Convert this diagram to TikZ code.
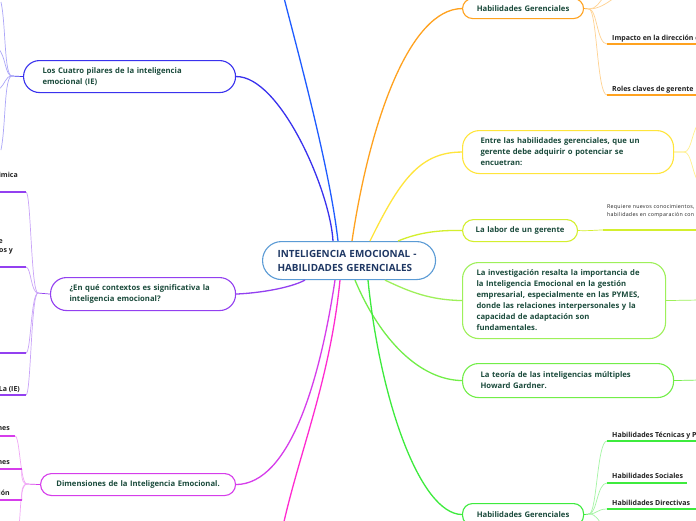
\documentclass[tikz,border=0pt]{standalone}
\usepackage{fontspec}
\setmainfont{Open Sans}
\usetikzlibrary{calc}
\definecolor{cBlue}{HTML}{5B9BD5}
\definecolor{navy}{HTML}{1F3864}
\definecolor{txt}{HTML}{1B4B3C}
\definecolor{lbl}{HTML}{222222}
\definecolor{orange}{HTML}{FFA21F}
\definecolor{orangeL}{HTML}{FFD291}
\definecolor{yellow}{HTML}{FFE53B}
\definecolor{yellowL}{HTML}{FFF08C}
\definecolor{ygreen}{HTML}{D4EF2E}
\definecolor{lime}{HTML}{9EF05A}
\definecolor{tgreen}{HTML}{72EE48}
\definecolor{bgreen}{HTML}{3DEB3D}
\definecolor{greenL}{HTML}{A4F5A4}
\definecolor{blueTop}{HTML}{1F5CFF}
\definecolor{indigo}{HTML}{3A32EE}
\definecolor{lav}{HTML}{ACA6F8}
\definecolor{purple}{HTML}{9340F0}
\definecolor{purpleL}{HTML}{C9A3F8}
\definecolor{magenta}{HTML}{D63DEB}
\definecolor{magL}{HTML}{F1A8F6}
\definecolor{pink}{HTML}{FF2BD0}
\begin{document}
\begin{tikzpicture}[x=1pt,y=-1pt,
  box/.style={draw=#1, line width=1.1pt, fill=white, anchor=north west, inner ysep=0pt,
    font=\fontsize{7.7}{11}\selectfont\bfseries, text=txt},
  conn/.style={line width=1.3pt},
  sub/.style={line width=0.7pt},
  uline/.style={line width=1.8pt},
  lab/.style={anchor=base west, inner sep=0pt, font=\fontsize{7}{8}\selectfont\bfseries, text=lbl},
  labr/.style={anchor=base east, inner sep=0pt, font=\fontsize{7}{8}\selectfont\bfseries, text=lbl},
  small/.style={anchor=base west, inner sep=0pt, align=left, font=\fontsize{5.3}{7.8}\selectfont\addfontfeature{LetterSpace=5}, text=lbl}]
\useasboundingbox (0,0) rectangle (696,520);
\fill[white] (0,0) rectangle (696,520);

% ---------- nodes ----------
\node[box=cBlue, rounded corners=19pt, minimum width=173pt, minimum height=38pt, text width=147pt, inner xsep=13pt, align=left, text=navy, font=\fontsize{9.9}{14}\selectfont\bfseries] (c) at (262,241) {\hspace*{2pt}INTELIGENCIA EMOCIONAL -\\\hspace*{2pt}HABILIDADES GERENCIALES};

\node[box=orange, rounded corners=10pt, minimum width=121pt, minimum height=20pt, text width=111pt, inner xsep=5pt, align=center] (hg1) at (462,-2) {Habilidades Gerenciales};
\node[box=yellow, rounded corners=17pt, minimum width=211pt, minimum height=43pt, text width=175pt, inner xsep=18pt, align=left] (entre) at (462,130) {Entre las habilidades gerenciales, que un\\gerente debe adquirir o potenciar se\\encuetran:};
\node[box=ygreen, rounded corners=11pt, minimum width=115pt, minimum height=22pt, text width=105pt, inner xsep=5pt, align=center] (labor) at (462,219) {La labor de un gerente};
\node[box=lime, rounded corners=16pt, minimum width=203pt, minimum height=76pt, text width=177pt, inner xsep=13pt, align=left] (inv) at (462,262) {\hspace*{1pt}La investigación resalta la importancia de\\\hspace*{1pt}la Inteligencia Emocional en la gestión\\\hspace*{1pt}empresarial, especialmente en las PYMES,\\\hspace*{1pt}donde las relaciones interpersonales y la\\\hspace*{1pt}capacidad de adaptación son\\\hspace*{1pt}fundamentales.};
\node[box=tgreen, rounded corners=16pt, minimum width=211pt, minimum height=34pt, text width=175pt, inner xsep=18pt, align=left] (teo) at (462,363) {La teoría de las inteligencias múltiples\\Howard Gardner.};
\node[box=bgreen, rounded corners=10pt, minimum width=121pt, minimum height=22pt, text width=111pt, inner xsep=5pt, align=center] (hg2) at (462,503) {Habilidades Gerenciales};

\node[box=indigo, rounded corners=16pt, minimum width=212pt, minimum height=32pt, text width=174pt, inner xsep=19pt, align=left] (pil) at (23,60) {Los Cuatro pilares de la inteligencia\\emocional (IE)};
\node[box=purple, rounded corners=16pt, minimum width=185pt, minimum height=33pt, text width=155pt, inner xsep=15pt, align=left] (ctx) at (50,277) {\hspace*{4pt}¿En qué contextos es significativa la\\\hspace*{4pt}inteligencia emocional?};
\node[box=magenta, rounded corners=11pt, minimum width=195pt, minimum height=22pt, text width=185pt, inner xsep=5pt, align=center] (dim) at (40,473) {Dimensiones de la Inteligencia Emocional.};

% free ends
\coordinate (topend) at (283,-6);
\coordinate (botend) at (283,526);

% ---------- main connectors ----------
\draw[conn, blueTop] ($(c.north west)+(76,0)$) .. controls (330,170) and (300,60) .. (topend);
\draw[conn, indigo] ($(c.north west)+(71,0)$) .. controls (330,190) and (280,76) .. (pil.east);
\draw[conn, orange] ($(c.north west)+(90,0)$) .. controls (370,120) and (410,9) .. (hg1.west);
\draw[conn, yellow] ($(c.north west)+(108,0)$) .. controls (400,180) and (420,152) .. (entre.west);
\draw[conn, ygreen] ($(c.north west)+(136,0)$) .. controls (420,232) and (440,230) .. (labor.west);
\draw[conn, lime] ($(c.south west)+(123,0)$) .. controls (410,292) and (430,300) .. (inv.west);
\draw[conn, tgreen] ($(c.south west)+(93,0)$) .. controls (380,340) and (420,380) .. (teo.west);
\draw[conn, bgreen] ($(c.south west)+(106,0)$) .. controls (380,400) and (420,514) .. (hg2.west);
\draw[conn, purple] ($(c.south west)+(43,0)$) .. controls (290,288) and (260,293) .. (ctx.east);
\draw[conn, magenta] ($(c.south west)+(73,0)$) .. controls (320,380) and (290,484) .. (dim.east);
\draw[conn, pink] ($(c.south west)+(78,0)$) .. controls (330,380) and (300,450) .. (botend);

% ---------- right side branches ----------
% orange
\coordinate (o0) at (589,9);
\coordinate (o1) at (607,44);
\coordinate (o2) at (607,95);
\draw[sub, orange] (hg1.east) -- (o0);
\draw[sub, orangeL] (o0) .. controls (597,9) and (597,44) .. (o1);
\draw[sub, orangeL] (o0) .. controls (597,9) and (597,95) .. (o2);
\draw[sub, orangeL] (o0) .. controls (596,9) and (600,2) .. (604,-4);
\draw[sub, orangeL] (o0) .. controls (598,9) and (606,4) .. (614,-2);
\draw[uline, orange] (o1) -- (700,44);
\draw[uline, orange] (o2) -- (700,95);
\node[lab] (l1) at (612,40) {Impacto en la dirección d};
\node[lab] (l2) at (612,91) {Roles claves de gerente};

% yellow
\coordinate (y0) at (684,152);
\draw[sub, yellow] (entre.east) -- (y0);
\draw[sub, yellowL] (y0) .. controls (692,152) and (692,128) .. (700,122);
\draw[sub, yellowL] (y0) .. controls (692,152) and (692,176) .. (700,184);

% labor
\coordinate (g0) at (603,230);
\draw[sub, ygreen] (labor.east) .. controls (590,231) and (595,230) .. (g0);
\draw[uline, ygreen] (g0) -- (700,230);
\node[small] (req) at (607,216) {Requiere nuevos conocimientos,\\habilidades en comparación con};

% investigacion / teoria
\coordinate (iv) at (700,300);
\draw[sub, lime] (inv.east) -- (iv);
\coordinate (tv) at (700,380);
\draw[sub, tgreen] (teo.east) -- (tv);

% green bottom
\coordinate (h0) at (589,514);
\coordinate (h1) at (607,441);
\coordinate (h2) at (607,483);
\coordinate (h3) at (607,509);
\draw[sub, bgreen] (hg2.east) -- (h0);
\draw[sub, greenL] (h0) .. controls (597,514) and (597,441) .. (h1);
\draw[sub, greenL] (h0) .. controls (597,514) and (597,483) .. (h2);
\draw[sub, greenL] (h0) .. controls (597,514) and (597,509) .. (h3);
\draw[sub, greenL] (h0) .. controls (597,514) and (599,522) .. (604,528);
\draw[uline, bgreen] (h1) -- (700,441);
\draw[uline, bgreen] (h2) -- (687,483);
\draw[uline, bgreen] (h3) -- (700,509);
\node[lab] (t1) at (612,437) {Habilidades Técnicas y P};
\node[lab] (t2) at (612,478) {Habilidades Sociales};
\node[lab] (t3) at (612,505) {Habilidades Directivas};

% ---------- left side branches ----------
% pilares
\coordinate (p0) at (12,76);
\draw[sub, indigo] (pil.west) -- (p0);
\draw[sub, lav] (p0) .. controls (4,76) and (6,25) .. (1,2);
\draw[sub, lav] (p0) .. controls (5,76) and (6,56) .. (-2,48);
\draw[sub, lav] (p0) .. controls (5,76) and (6,84) .. (-2,90);
\draw[sub, lav] (p0) .. controls (4,76) and (6,125) .. (1,150);

% contextos
\coordinate (k0) at (38,293);
\coordinate (k1) at (26,192);
\coordinate (k2) at (26,267);
\coordinate (k3) at (26,353);
\coordinate (k4) at (26,395);
\draw[sub, purple] (ctx.west) -- (k0);
\draw[sub, purpleL] (k0) .. controls (31,293) and (31,192) .. (k1);
\draw[sub, purpleL] (k0) .. controls (31,293) and (31,267) .. (k2);
\draw[sub, purpleL] (k0) .. controls (31,293) and (31,353) .. (k3);
\draw[sub, purpleL] (k0) .. controls (31,293) and (31,395) .. (k4);
\draw[uline, purple] (k1) -- (-4,192);
\draw[uline, purple] (k2) -- (-4,267);
\draw[uline, purple] (k3) -- (-4,353);
\draw[uline, purple] (k4) -- (-4,395);
\node[labr] (f1) at (18,177) {imica};
\node[labr] (f2) at (3,243) {e};
\node[labr] (f3) at (13,252) {os y};
\node[labr] (f4) at (20,391) {La (IE)};

% dimensiones
\coordinate (d0) at (27,484);
\coordinate (d1) at (15,436);
\coordinate (d2) at (22,469);
\coordinate (d3) at (22,500);
\draw[sub, magenta] (dim.west) -- (d0);
\draw[sub, magL] (d0) .. controls (20,484) and (20,436) .. (d1);
\draw[sub, magL] (d0) .. controls (20,484) and (22,469) .. (d2);
\draw[sub, magL] (d0) .. controls (20,484) and (22,500) .. (d3);
\draw[sub, magL] (d0) .. controls (20,484) and (21,510) .. (19,526);
\draw[uline, magenta] (d1) -- (-4,436);
\draw[uline, magenta] (d2) -- (-4,469);
\draw[uline, magenta] (d3) -- (-4,500);
\node[labr] (m1) at (10,430) {nes};
\node[labr] (m2) at (10,464) {nes};
\node[labr] (m3) at (10,495) {ión};
\end{tikzpicture}
\end{document}
